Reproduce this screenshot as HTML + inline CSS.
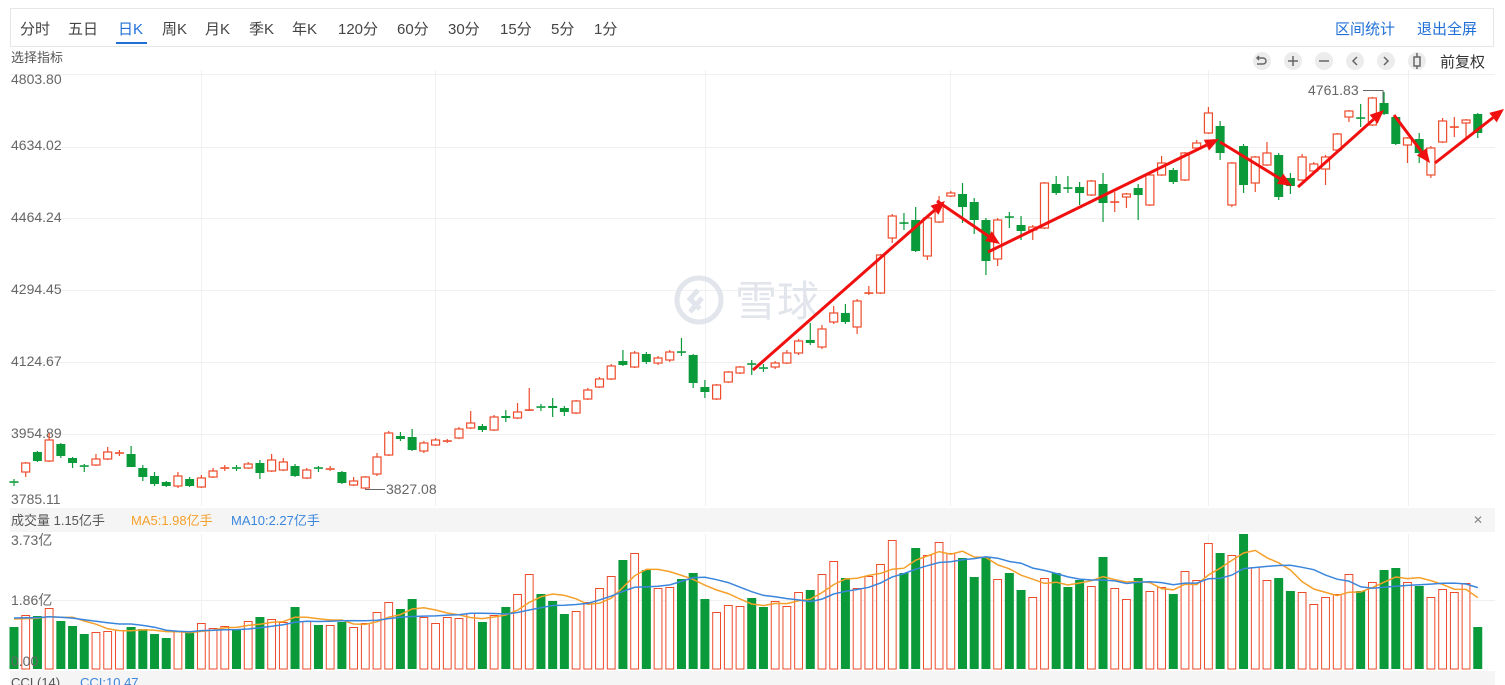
<!DOCTYPE html>
<html><head><meta charset="utf-8">
<style>
html,body{margin:0;padding:0;background:#fff;width:1505px;height:685px;overflow:hidden;font-family:"Liberation Sans","Noto Sans CJK SC",sans-serif}
svg text{font-family:"Liberation Sans","Noto Sans CJK SC",sans-serif}
</style></head><body>
<svg id="s" width="1505" height="685" xmlns="http://www.w3.org/2000/svg">
<rect x="10.5" y="8.5" width="1483" height="38" fill="#fff" stroke="#e6e6e6"/>
<g font-size="15" fill="#444">
<text x="20" y="34">分时</text><text x="68" y="34">五日</text><text x="118" y="34" fill="#1f6fd6">日K</text>
<text x="162" y="34">周K</text><text x="205" y="34">月K</text><text x="249" y="34">季K</text><text x="292" y="34">年K</text>
<text x="338" y="34">120分</text><text x="397" y="34">60分</text><text x="448" y="34">30分</text><text x="500" y="34">15分</text>
<text x="551" y="34">5分</text><text x="594" y="34">1分</text>
<text x="1335" y="34" fill="#1f6fd6">区间统计</text><text x="1417" y="34" fill="#1f6fd6">退出全屏</text>
</g>
<rect x="116" y="42" width="31" height="2" fill="#1f6fd6"/>
<text x="11" y="62" font-size="13" fill="#555">选择指标</text>
<g fill="#ececec">
<circle cx="1262" cy="61" r="9"/><circle cx="1293" cy="61" r="9"/><circle cx="1324" cy="61" r="9"/>
<circle cx="1355" cy="61" r="9"/><circle cx="1386" cy="61" r="9"/><circle cx="1417" cy="61" r="9"/>
</g>
<g stroke="#666" stroke-width="1.5" fill="none">
<path d="M1257 58h6a3 3 0 0 1 0 6h-6M1259 56l-2 2 2 2"/>
<path d="M1288 61h10M1293 56v10"/><path d="M1319 61h10"/>
<path d="M1357 57l-4 4 4 4"/><path d="M1384 57l4 4-4 4"/>
<rect x="1414" y="57" width="6" height="9"/><path d="M1417 53v4M1417 66v3"/>
</g>
<text x="1440" y="67" font-size="15" fill="#333">前复权</text>
<g id="grid" stroke="#f0f0f0" stroke-width="1"></g>
<g font-size="14" fill="#666">
<text x="11" y="84">4803.80</text><text x="11" y="150">4634.02</text><text x="11" y="222">4464.24</text>
<text x="11" y="294">4294.45</text><text x="11" y="366">4124.67</text><text x="11" y="438">3954.89</text><text x="11" y="504">3785.11</text>
</g>
<g opacity="0.9">
<circle cx="699" cy="300" r="22" fill="none" stroke="#dfe3ea" stroke-width="5"/>
<path d="M690 312l12-14M698 290l-8 9l10 10" stroke="#dfe3ea" stroke-width="5" fill="none"/>
<text x="735" y="316" font-size="42" fill="#dfe3ea">雪球</text>
</g>
<g id="c"></g>
<rect x="10" y="508" width="1485" height="24" fill="#f5f5f5"/>
<text x="11" y="525" font-size="13" fill="#555">成交量 1.15亿手</text>
<text x="131" y="525" font-size="13" fill="#f5a02a">MA5:1.98亿手</text>
<text x="231" y="525" font-size="13" fill="#3b86dd">MA10:2.27亿手</text>
<text x="1473" y="524" font-size="12" fill="#888">✕</text>
<g id="v"></g>
<g font-size="14" fill="#666">
<text x="11" y="545">3.73亿</text><text x="11" y="605">1.86亿</text><text x="11" y="666">0.00</text>
</g>
<rect x="10" y="671" width="1485" height="14" fill="#f5f5f5"/>
<text x="11" y="687" font-size="13" fill="#555">CCI (14)</text>
<text x="80" y="687" font-size="13" fill="#3b86dd">CCI:10.47</text>
<g id="a"></g>
</svg>
<script>
var NS="http://www.w3.org/2000/svg";
function el(p,t,a){var e=document.createElementNS(NS,t);for(var k in a)e.setAttribute(k,a[k]);p.appendChild(e);return e;}
var g=document.getElementById('grid');
[74,147,218,290,362,434].forEach(function(y){el(g,'line',{x1:10,x2:1495,y1:y+.5,y2:y+.5});});
[600].forEach(function(y){el(g,'line',{x1:10,x2:1495,y1:y+.5,y2:y+.5});});
[201,435,705,950,1208,1408].forEach(function(x){el(g,'line',{x1:x+.5,x2:x+.5,y1:70,y2:506});el(g,'line',{x1:x+.5,x2:x+.5,y1:534,y2:670});});
// [open, close, high, low] in px
var C=[[482,483,479,486],[472,463,462,477],[452,461,451,462],[461,440,433,462],[444,456,443,458],[458,463,457,468],[466,467,464,472],[465,459,454,466],[459,452,447,460],[454,453,450,456],
[454,467,446,467],[468,477,465,481],[476,484,472,486],[482,486,481,487],[486,476,472,488],[479,486,477,487],[487,478,475,488],[477,471,468,478],[469,468,465,471],[468,469,465,471],
[468,464,462,469],[463,473,460,479],[471,460,454,472],[470,462,458,471],[466,476,464,477],[478,470,468,479],[468,469,466,472],[470,469,466,471],[472,483,471,484],[485,481,477,486],
[488,477,476,489],[474,457,453,476],[455,433,431,456],[436,439,432,441],[437,450,429,451],[451,443,441,453],[445,440,438,446],[442,441,439,443],[438,429,427,439],[428,423,411,429],
[426,430,424,432],[430,417,415,431],[416,418,410,422],[418,412,403,419],[410,410,388,411],[407,408,404,411],[406,408,398,417],[408,412,406,416],[413,401,400,414],[399,390,388,400],
[387,379,377,388],[379,366,364,380],[361,365,350,366],[367,353,351,368],[354,362,352,364],[363,358,356,365],[360,352,350,362],[352,352,338,356],[355,383,354,388],[387,392,380,398],
[399,385,384,400],[382,372,371,383],[373,367,366,374],[364,364,360,375],[368,369,364,372],[367,363,361,369],[363,353,350,364],[353,341,339,355],[340,343,323,345],[347,329,325,349],
[322,313,306,324],[313,322,304,324],[327,301,299,334],[293,293,286,295],[293,255,254,294],[238,216,214,243],[223,223,213,230],[220,251,207,252],[256,218,216,260],[222,205,196,223],
[196,193,191,197],[194,207,183,223],[202,220,198,234],[220,261,218,275],[259,220,218,266],[217,217,212,228],[225,231,216,240],[230,227,225,240],[228,183,182,229],[184,193,176,195],
[188,188,176,193],[187,193,182,205],[195,181,180,196],[184,203,173,222],[202,202,192,212],[197,194,193,208],[188,195,184,220],[205,175,173,206],[175,163,156,176],[170,182,168,184],
[180,153,152,181],[148,143,140,149],[133,113,107,134],[126,153,121,160],[205,163,162,207],[146,185,144,193],[183,157,156,192],[165,153,142,166],[155,197,153,200],[178,186,173,194],
[180,157,154,181],[171,164,162,172],[169,157,155,185],[150,134,133,151],[117,111,110,122],[118,118,104,127],[125,98,97,126],[103,114,92,115],[117,144,116,145],[145,138,137,163],
[139,153,133,163],[175,148,146,178],[142,121,118,143],[127,127,117,137],[123,120,119,137],[114,133,113,138]];
var V=[627,615,616,608,621,626,634,632,631,630,627,629,634,638,631,631,623,628,626,629,621,617,619,622,607,621,625,625,622,627,623,612,602,609,599,617,623,617,618,613,622,615,
607,594,574,594,601,614,611,602,588,576,560,553,570,588,587,579,573,599,612,605,606,598,607,601,606,592,590,574,561,578,588,576,564,540,573,548,555,542,553,558,577,557,579,573,590,597,578,573,587,580,586,557,588,599,578,591,587,594,571,580,543,553,555,534,567,580,578,591,592,604,597,594,574,591,582,570,568,582,586,597,589,592,583,627];
var R='#ee4b2b',G='#0a9a3a',cg=document.getElementById('c'),vg=document.getElementById('v');
function X(i){return 14+i*11.71;}
var B=669;
C.forEach(function(c,i){
 var x=X(i),up=c[1]<c[0]||(c[1]==c[0]&&V[i]%2==0&&i!=0&&i!=19&&i!=26&&i!=45&&i!=63&&i!=64&&i!=76&&i!=90&&i!=115),col=up?R:G;
 var t=Math.min(c[0],c[1]),b=Math.max(c[0],c[1]);
 el(cg,'line',{x1:x,x2:x,y1:c[2],y2:t,stroke:col,'stroke-width':1.2});
 el(cg,'line',{x1:x,x2:x,y1:b,y2:c[3],stroke:col,'stroke-width':1.2});
 if(b-t<1.5) el(cg,'rect',{x:x-4.5,y:t-.75,width:9,height:1.6,fill:col});
 else if(up) el(cg,'rect',{x:x-4,y:t,width:8,height:b-t,fill:'#fff',stroke:col,'stroke-width':1.2});
 else el(cg,'rect',{x:x-4.5,y:t,width:9,height:b-t,fill:col});
 var vt=V[i];
 if(up) el(vg,'rect',{x:x-3.9,y:vt+.5,width:7.8,height:B-vt-.5,fill:'#fff',stroke:R,'stroke-width':1});
 else el(vg,'rect',{x:x-4.5,y:vt,width:9,height:B-vt,fill:G});
});
function ma(n,col){var p='';for(var i=0;i<V.length;i++){var s=0,k=0;for(var j=Math.max(0,i-n+1);j<=i;j++){s+=B-V[j];k++;}
 var h=s/k; if(i<n-1) h=(h*k+ (B-617)*(n-k))/n; p+=(i?'L':'M')+X(i).toFixed(1)+' '+(B-h).toFixed(1);}
 el(vg,'path',{d:p,fill:'none',stroke:col,'stroke-width':1.5});}
ma(5,'#f5a02a');ma(10,'#3b86dd');
// annotations
el(cg,'path',{d:'M1363 90.5H1383V103',fill:'none',stroke:'#666','stroke-width':1});
el(cg,'text',{x:1308,y:95,'font-size':14,fill:'#666'}).textContent='4761.83';
el(cg,'path',{d:'M365 489.5H385',fill:'none',stroke:'#666','stroke-width':1});
el(cg,'text',{x:386,y:494,'font-size':14,fill:'#666'}).textContent='3827.08';
var ag=document.getElementById('a');
function arrow(x1,y1,x2,y2){var dx=x2-x1,dy=y2-y1,L=Math.sqrt(dx*dx+dy*dy),ux=dx/L,uy=dy/L,h=14,w=6;
 var bx=x2-ux*h,by=y2-uy*h;
 el(ag,'line',{x1:x1,y1:y1,x2:bx,y2:by,stroke:'#f01010','stroke-width':3});
 el(ag,'polygon',{points:x2+','+y2+' '+(bx-uy*w)+','+(by+ux*w)+' '+(bx+uy*w)+','+(by-ux*w),fill:'#f01010'});}
arrow(753,370,945,201);arrow(937,201,1000,244);arrow(988,252,1219,139);arrow(1220,142,1292,186);
arrow(1298,187,1384,110);arrow(1394,115,1430,163);arrow(1435,163,1504,109);
</script>
</body></html>
